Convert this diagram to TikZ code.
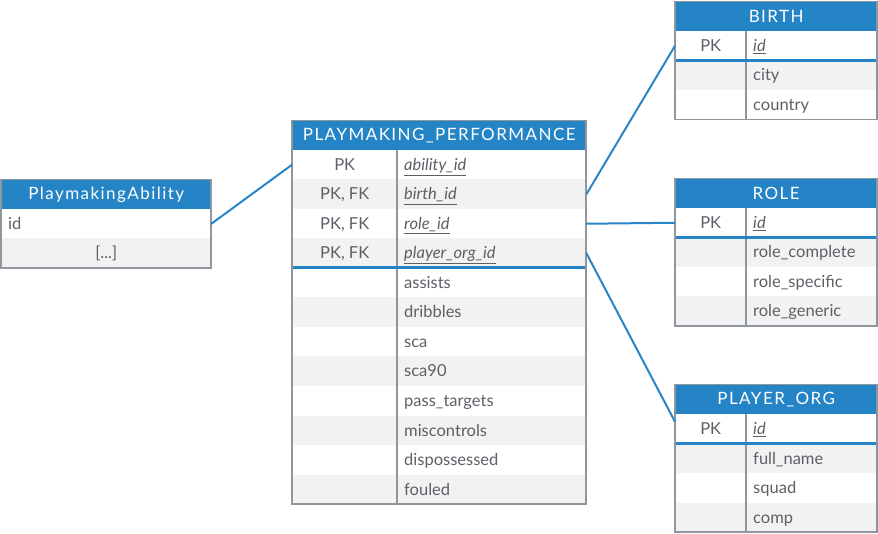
\documentclass[tikz,border=0pt]{standalone}
\usepackage{fontspec}
\setmainfont{Lato}
\newfontfamily\headfont[LetterSpace=8.5]{Lato}

\definecolor{headblue}{RGB}{37,132,198}
\definecolor{linkblue}{RGB}{40,134,200}
\definecolor{framegrey}{RGB}{143,150,157}
\definecolor{stripegrey}{RGB}{242,242,242}
\definecolor{txtgrey}{RGB}{92,96,102}

\tikzset{
  tabhead/.style={fill=headblue,text=white,font=\headfont\fontsize{17}{19}\selectfont,
    minimum height=29.5pt,inner sep=0pt,anchor=north west},
  keycell/.style={text=txtgrey,font=\fontsize{16.5}{19}\selectfont,inner sep=0pt,
    text height=13pt,text depth=1.5pt,minimum height=29.5pt,anchor=west},
  fieldcell/.style={text=txtgrey,font=\fontsize{16.5}{19}\selectfont,inner xsep=7pt,
    inner ysep=0pt,text height=13pt,text depth=1.5pt,minimum height=29.5pt,
    anchor=west,align=left,text width=#1},
  keyline/.style={headblue,line width=3pt},
  frame/.style={draw=framegrey,line width=1.3pt},
  link/.style={linkblue,line width=2pt},
  stripe/.style={fill=stripegrey}
}

\begin{document}
\begin{tikzpicture}[x=1pt,y=-1pt]
  \useasboundingbox (0,0) rectangle (878,534);

  % PlaymakingAbility
  \node[tabhead,minimum width=210pt] (pa) at (1,179.5) {PlaymakingAbility};
  \fill[stripe] (1,238.5) rectangle (211,268);
  \node[fieldcell=196pt] (pa-id) at (1,223.75) {id};
  \node[keycell,minimum width=210pt] (pa-more) at (1,253.25) {[...]};
  \draw[frame] (1,179.5) rectangle (211,268);

  % PLAYMAKING_PERFORMANCE
  \node[tabhead,minimum width=294pt] (pp) at (292,120.5) {PLAYMAKING\_PERFORMANCE};
  \foreach \i in {1,3,...,11}
    \fill[stripe] (292,150+29.5*\i) rectangle (586,179.5+29.5*\i);
  \foreach \nm/\k/\f [count=\i from 0] in {ability/PK/ability\_id,
      birth/{PK, FK}/birth\_id, role/{PK, FK}/role\_id, org/{PK, FK}/player\_org\_id} {
    \node[keycell,minimum width=105pt] (pp-k\nm) at (292,164.75+29.5*\i) {\k};
    \node[fieldcell=175pt] (pp-\nm) at (397,164.75+29.5*\i) {\underline{\textit{\f}}};
  }
  \foreach \f [count=\i from 4] in {assists,dribbles,sca,sca90,pass\_targets,
      miscontrols,dispossessed,fouled}
    \node[fieldcell=175pt] (pp-f\i) at (397,164.75+29.5*\i) {\f};
  \draw[frame] (397,150) -- (397,504);
  \draw[keyline] (292,268) -- (586,268);
  \draw[frame] (292,120.5) rectangle (586,504);

  % BIRTH
  \node[tabhead,minimum width=202pt] (birth) at (675,1.5) {BIRTH};
  \fill[stripe] (675,60.5) rectangle (877,90);
  \node[keycell,minimum width=71pt] (birth-pk) at (675,45.75) {PK};
  \node[fieldcell=117pt] (birth-id) at (746,45.75) {\underline{\textit{id}}};
  \node[fieldcell=117pt] (birth-city) at (746,75.25) {city};
  \node[fieldcell=117pt] (birth-country) at (746,104.75) {country};
  \draw[frame] (746,31) -- (746,119.5);
  \draw[keyline] (675,60.5) -- (877,60.5);
  \draw[frame] (675,1.5) rectangle (877,119.5);

  % ROLE
  \node[tabhead,minimum width=202pt] (role) at (675,178.5) {ROLE};
  \fill[stripe] (675,237.5) rectangle (877,267);
  \fill[stripe] (675,296.5) rectangle (877,326);
  \node[keycell,minimum width=71pt] (role-pk) at (675,222.75) {PK};
  \node[fieldcell=117pt] (role-id) at (746,222.75) {\underline{\textit{id}}};
  \node[fieldcell=117pt] (role-complete) at (746,252.25) {role\_complete};
  \node[fieldcell=117pt] (role-specific) at (746,281.75) {role\_specific};
  \node[fieldcell=117pt] (role-generic) at (746,311.25) {role\_generic};
  \draw[frame] (746,208) -- (746,326);
  \draw[keyline] (675,237.5) -- (877,237.5);
  \draw[frame] (675,178.5) rectangle (877,326);

  % PLAYER_ORG
  \node[tabhead,minimum width=202pt] (org) at (675,384.5) {PLAYER\_ORG};
  \fill[stripe] (675,443.5) rectangle (877,473);
  \fill[stripe] (675,502.5) rectangle (877,532);
  \node[keycell,minimum width=71pt] (org-pk) at (675,428.75) {PK};
  \node[fieldcell=117pt] (org-id) at (746,428.75) {\underline{\textit{id}}};
  \node[fieldcell=117pt] (org-name) at (746,458.25) {full\_name};
  \node[fieldcell=117pt] (org-squad) at (746,487.75) {squad};
  \node[fieldcell=117pt] (org-comp) at (746,517.25) {comp};
  \draw[frame] (746,414) -- (746,532);
  \draw[keyline] (675,443.5) -- (877,443.5);
  \draw[frame] (675,384.5) rectangle (877,532);

  % links
  \draw[link] (pa-id.east) -- (pp-kability.west);
  \draw[link] (pp-birth.east) -- (birth-pk.west);
  \draw[link] (pp-role.east) -- (role-pk.west);
  \draw[link] (pp-org.east) -- ([yshift=7pt]org-pk.west);
\end{tikzpicture}
\end{document}
